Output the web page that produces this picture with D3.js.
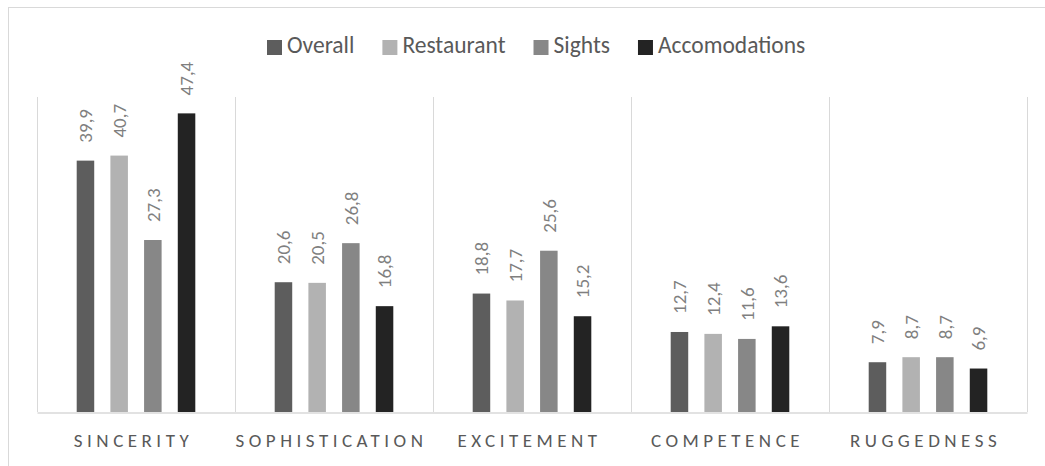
<!DOCTYPE html>
<html>
<head>
<meta charset="utf-8">
<script src="https://cdn.jsdelivr.net/npm/d3@7"></script>
<style>
  html, body { margin: 0; padding: 0; background: #fff; }
  svg { display: block; }
  text { font-family: Carlito, Calibri, Lato, "Open Sans", sans-serif; }
</style>
</head>
<body>
<div id="chart"></div>
<script>
// Brand personality dimensions by review type (percent)
const categories = ["SINCERITY", "SOPHISTICATION", "EXCITEMENT", "COMPETENCE", "RUGGEDNESS"];
const seriesNames = ["Overall", "Restaurant", "Sights", "Accomodations"];
const overall = [39.9, 20.6, 18.8, 12.7, 7.9];
const restaurant = [40.7, 20.5, 17.7, 12.4, 8.7];
const sights = [27.3, 26.8, 25.6, 11.6, 8.7];
const accomodations = [47.4, 16.8, 15.2, 13.6, 6.9];
const seriesColors = ["#5d5d5d", "#b2b2b2", "#878787", "#232323"];

const seriesValues = [overall, restaurant, sights, accomodations];

const W = 1045, H = 466;
const plot = { left: 37, right: 1027, top: 97, bottom: 412 };

const svg = d3.select("#chart").append("svg")
  .attr("width", W).attr("height", H);

// outer chart frame
svg.append("rect")
  .attr("x", 8.5).attr("y", 7.5)
  .attr("width", W).attr("height", H)
  .attr("fill", "none").attr("stroke", "#d9d9d9").attr("stroke-width", 1);

const x0 = d3.scaleBand().domain(categories).range([plot.left, plot.right]).padding(0);
const y = d3.scaleLinear().domain([0, 50]).range([plot.bottom, plot.top]);

const groupWidth = 118.6;
const x1 = d3.scaleBand().domain(seriesNames)
  .range([-groupWidth / 2, groupWidth / 2])
  .paddingInner(0.48).paddingOuter(0);

// vertical separators between categories
const bounds = categories.map(c => x0(c)).concat([x0.range()[1]]);
svg.append("g").selectAll("line").data(bounds).join("line")
  .attr("x1", d => Math.round(d) + 0.5).attr("x2", d => Math.round(d) + 0.5)
  .attr("y1", plot.top).attr("y2", plot.bottom)
  .attr("stroke", "#d9d9d9").attr("stroke-width", 1);

// category axis
const xAxis = svg.append("g")
  .attr("transform", `translate(0,${plot.bottom + 0.5})`)
  .call(d3.axisBottom(x0).tickSize(0).tickPadding(0));
xAxis.select(".domain").attr("stroke", "#d9d9d9").attr("stroke-width", 1.5);
xAxis.selectAll(".tick text")
  .attr("y", 34)
  .attr("dy", 0)
  .attr("x", -2.5)
  .attr("fill", "#595959")
  .style("font-size", "19px")
  .style("letter-spacing", "4.5px");

// bars and value labels
const fmt = v => d3.format(".1f")(v).replace(".", ",");
const rows = [];
categories.forEach((c, i) => {
  seriesNames.forEach((s, j) => {
    rows.push({ cat: c, series: s, value: seriesValues[j][i], color: seriesColors[j] });
  });
});

const bars = svg.append("g");
bars.selectAll("rect").data(rows).join("rect")
  .attr("x", d => x0(d.cat) + x0.bandwidth() / 2 + x1(d.series))
  .attr("width", x1.bandwidth())
  .attr("y", d => y(d.value))
  .attr("height", d => y(0) - y(d.value))
  .attr("fill", d => d.color);

bars.selectAll("text").data(rows).join("text")
  .attr("transform", d => {
    const cx = x0(d.cat) + x0.bandwidth() / 2 + x1(d.series) + x1.bandwidth() / 2;
    return `translate(${cx},${y(d.value) - 18}) rotate(-90)`;
  })
  .attr("dy", "0.35em")
  .attr("text-anchor", "start")
  .attr("fill", "#7f7f7f")
  .style("font-size", "19px")
  .text(d => fmt(d.value));

// legend
const legend = svg.append("g").attr("transform", "translate(267,0)");
let lx = 0;
seriesNames.forEach((s, j) => {
  const g = legend.append("g").attr("transform", `translate(${lx},0)`);
  g.append("rect").attr("x", 0).attr("y", 40).attr("width", 15).attr("height", 15)
    .attr("fill", seriesColors[j]);
  const t = g.append("text").attr("x", 20).attr("y", 53)
    .attr("fill", "#595959").style("font-size", "23.5px").text(s);
  lx += 20 + t.node().getComputedTextLength() + 28;
});
</script>
</body>
</html>
